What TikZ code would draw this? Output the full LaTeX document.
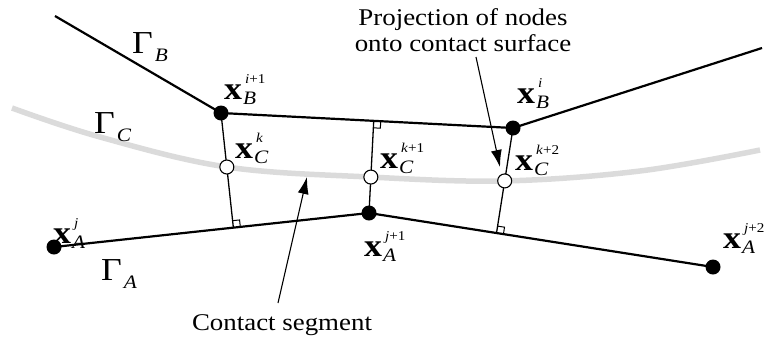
\documentclass[tikz,border=0pt]{standalone}
\usepackage{fontspec}
\setmainfont[FakeStretch=1.12]{Liberation Serif}
\usetikzlibrary{calc,arrows.meta}
\definecolor{curvegray}{gray}{0.86}
\newcommand\xlab[2]{\fontsize{32}{32}\selectfont\textbf{x}\hspace{1pt}\rlap{\hspace{2pt}\raisebox{16pt}{\fontsize{13.5}{13.5}\selectfont #1}}\raisebox{-5pt}{\fontsize{19}{19}\selectfont\textit{#2}}}
\newcommand\glab[1]{\fontsize{32}{32}\selectfont Γ\hspace{2pt}\raisebox{-8pt}{\fontsize{19}{19}\selectfont\textit{#1}}}
\begin{document}
\begin{tikzpicture}[x=1pt,y=-1pt,
  edge/.style={line width=2.2pt},
  perp/.style={line width=1.3pt},
  soliddot/.style={circle,fill=black,inner sep=0pt,minimum size=15pt},
  opendot/.style={circle,draw=black,fill=white,line width=1.1pt,inner sep=0pt,minimum size=14pt},
  lab/.style={inner sep=0pt,anchor=base west},
  note/.style={inner sep=0pt,anchor=base,font=\fontsize{24}{27}\selectfont},
  pointer/.style={line width=1.1pt,-{Latex[length=17pt,width=11pt]}},
  rmark/.style={line width=1pt}]
\useasboundingbox (0,0) rectangle (767,338);
% geometry
\coordinate (b0) at (55,16);
\coordinate (b1) at (221,113);
\coordinate (b2) at (513,128);
\coordinate (b3) at (762,48);
\coordinate (a0) at (54,247);
\coordinate (a1) at (369,213);
\coordinate (a2) at (713,267);
\coordinate (f1) at ($(a0)!(b1)!(a1)$);
\coordinate (f2) at ($(b1)!(a1)!(b2)$);
\coordinate (f3) at ($(a1)!(b2)!(a2)$);
\coordinate (c1) at ($(b1)!0.471!(f1)$);
\coordinate (c2) at ($(a1)!0.39!(f2)$);
\coordinate (c3) at ($(b2)!0.504!(f3)$);
% contact surface
\draw[curvegray,line width=5.5pt] plot[smooth,tension=0.6] coordinates {(12,108) (100,137) (c1) (c2) (c3) (640,171) (760,150)};
% perpendiculars
\draw[perp] (b1) -- (f1);
\draw[perp] (a1) -- (f2);
\draw[perp] (b2) -- (f3);
% right-angle marks
\coordinate (r1a) at ($(f1)!7pt!(a1)$);
\coordinate (r1b) at ($(f1)!7pt!(b1)$);
\draw[rmark] (r1a) -- ($(r1a)+(r1b)-(f1)$) -- (r1b);
\coordinate (r2a) at ($(f2)!7pt!(b2)$);
\coordinate (r2b) at ($(f2)!7pt!(a1)$);
\draw[rmark] (r2a) -- ($(r2a)+(r2b)-(f2)$) -- (r2b);
\coordinate (r3a) at ($(f3)!7pt!(a2)$);
\coordinate (r3b) at ($(f3)!7pt!(b2)$);
\draw[rmark] (r3a) -- ($(r3a)+(r3b)-(f3)$) -- (r3b);
% boundaries
\draw[edge] (b0) -- (b1) -- (b2) -- (b3);
\draw[edge] (a0) -- (a1) -- (a2);
% nodes
\node[soliddot] (nb1) at (b1) {};
\node[soliddot] (nb2) at (b2) {};
\node[soliddot] (na0) at (a0) {};
\node[soliddot] (na1) at (a1) {};
\node[soliddot] (na2) at (a2) {};
\node[opendot] (nc1) at (c1) {};
\node[opendot] (nc2) at (c2) {};
\node[opendot] (nc3) at (c3) {};
% labels
\node[lab] (lb1) at (224,99) {\xlab{\textit{i}+1}{B}};
\node[lab] (lb2) at (517,103) {\xlab{\textit{i}}{B}};
\node[lab] (lc1) at (235,158) {\xlab{\textit{k}}{C}};
\node[lab] (lc2) at (380,168) {\xlab{\textit{k}+1}{C}};
\node[lab] (lc3) at (515,170) {\xlab{\textit{k}+2}{C}};
\node[lab] (la0) at (53,243) {\xlab{\textit{j}}{A}};
\node[lab] (la1) at (364,256) {\xlab{\textit{j}+1}{A}};
\node[lab] (la2) at (723,248) {\xlab{\textit{j}+2}{A}};
\node[lab] (gb) at (132,53) {\glab{B}};
\node[lab] (gc) at (94,133) {\glab{C}};
\node[lab] (ga) at (101,280) {\glab{A}};
% notes
\node[note] (proj1) at (463,25) {Projection of nodes};
\node[note] (proj2) at (463,51) {onto contact surface};
\node[note] (seg) at (282,330) {Contact segment};
\coordinate (p0) at (476,57);
\coordinate (p1) at (500,167);
\draw[pointer] (p0) -- (p1);
\coordinate (s0) at (278,303);
\coordinate (s1) at (307,177);
\draw[pointer] (s0) -- (s1);
\end{tikzpicture}
\end{document}
